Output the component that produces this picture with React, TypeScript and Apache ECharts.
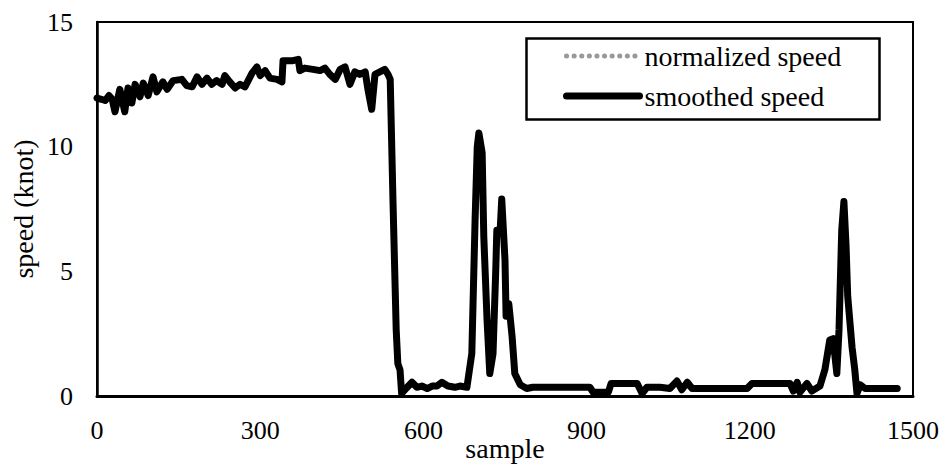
import React, { useEffect, useRef } from "react";
import * as echarts from "echarts";

const sampleIdx = [
  0, 8, 15, 22, 28, 33, 42, 51, 57, 64, 70, 79, 85, 94, 103, 110, 121, 129, 140, 156,
  165, 175, 184, 193, 202, 211, 220, 230, 235, 244, 254, 263, 272, 285, 294, 300, 309, 318, 331, 340,
  342, 360, 370, 373, 382, 397, 410, 419, 428, 438, 447, 456, 465, 474, 483, 493, 498, 505, 511, 520,
  529, 535, 539, 544, 550, 553, 557, 560, 568, 579, 588, 597, 607, 616, 625, 634, 645, 658, 667, 680,
  689, 695, 699, 702, 708, 711, 717, 722, 728, 733, 735, 741, 744, 750, 752, 757, 763, 768, 778, 790,
  801, 851, 906, 912, 940, 945, 993, 1002, 1011, 1035, 1053, 1066, 1075, 1085, 1094, 1108, 1195, 1204, 1274, 1280,
  1287, 1292, 1305, 1314, 1329, 1338, 1347, 1353, 1360, 1364, 1369, 1373, 1377, 1380, 1388, 1393, 1397, 1403, 1412, 1471,
];

const smoothedSpeed = [
  11.95, 11.9, 11.85, 12.05, 11.9, 11.4, 12.3, 11.4, 12.35, 11.75, 12.5, 12.0, 12.55, 12.05, 12.8, 12.2, 12.6, 12.3, 12.65, 12.7,
  12.45, 12.4, 12.8, 12.5, 12.75, 12.5, 12.65, 12.5, 12.85, 12.6, 12.35, 12.5, 12.4, 12.95, 13.2, 12.85, 13.05, 12.75, 12.7, 12.6,
  13.45, 13.45, 13.5, 13.05, 13.15, 13.1, 13.05, 13.15, 12.9, 12.7, 13.1, 13.2, 12.5, 13.0, 12.9, 13.0, 12.3, 11.5, 12.9, 13.0,
  13.1, 12.9, 12.7, 7.9, 2.65, 1.3, 1.05, 0.1, 0.3, 0.55, 0.35, 0.4, 0.3, 0.4, 0.4, 0.55, 0.4, 0.35, 0.4, 0.35,
  1.7, 7.05, 10.0, 10.55, 9.75, 6.4, 3.05, 0.9, 1.7, 5.05, 6.65, 6.6, 7.9, 5.45, 3.2, 3.7, 2.4, 0.9, 0.45, 0.3,
  0.35, 0.35, 0.35, 0.15, 0.15, 0.5, 0.5, 0.1, 0.35, 0.35, 0.3, 0.6, 0.25, 0.55, 0.3, 0.3, 0.3, 0.5, 0.5, 0.2,
  0.55, 0.15, 0.5, 0.2, 0.4, 1.05, 2.25, 2.3, 0.9, 2.65, 6.65, 7.8, 6.0, 4.0, 1.95, 1.05, 0.1, 0.45, 0.3, 0.3,
];

const normalizedSpeed: number[][] = [];

const xTicks = { min: 0, max: 1500, interval: 300 };
const yTicks = { min: 0, max: 15, interval: 5 };

const FONT = "'Liberation Serif', 'Times New Roman', serif";

export default function App() {
  const ref = useRef<HTMLDivElement>(null);
  useEffect(() => {
    if (!ref.current) return;
    const chart = echarts.init(ref.current, null, { renderer: "svg" });
    const smoothed = sampleIdx.map((x, i) => [x, smoothedSpeed[i]]);
    chart.setOption({
      animation: false,
      backgroundColor: "#fff",
      grid: {
        left: 97,
        right: 33,
        top: 22,
        bottom: 70,
        containLabel: false,
        outerBoundsMode: "none",
        show: true,
        borderColor: "#000",
        borderWidth: 2,
        backgroundColor: "transparent",
      },
      graphic: [
        {
          type: "rect",
          left: 524,
          top: 36,
          z: 0,
          shape: { width: 353, height: 81 },
          style: { fill: "none", stroke: "#000", lineWidth: 2.5 },
        },
      ],
      legend: {
        orient: "vertical",
        left: 558,
        top: 36,
        itemWidth: 73,
        itemHeight: 20,
        itemGap: 10,
        textStyle: { fontFamily: FONT, fontSize: 28, color: "#000", lineHeight: 30 },
        data: [
          {
            name: "normalized speed",
            itemStyle: { color: "transparent", opacity: 0, borderWidth: 0 },
            lineStyle: { color: "#999", width: 5, type: [0.1, 7.5], cap: "round", opacity: 1 },
          },
          {
            name: "smoothed speed",
            itemStyle: { color: "transparent", opacity: 0, borderWidth: 0 },
            lineStyle: { color: "#000", width: 7, type: "solid", cap: "round", opacity: 1 },
          },
        ],
      },
      xAxis: {
        type: "value",
        min: xTicks.min,
        max: xTicks.max,
        interval: xTicks.interval,
        name: "sample",
        nameLocation: "middle",
        nameGap: 38,
        nameMoveOverlap: false,
        nameTextStyle: { fontFamily: FONT, fontSize: 28, color: "#000" },
        axisLine: { show: true, lineStyle: { color: "#000", width: 3 } },
        axisTick: { show: false },
        splitLine: { show: false },
        axisLabel: {
          fontFamily: FONT,
          fontSize: 26,
          color: "#000",
          margin: 21,
          formatter: (v: number) => String(v),
        },
      },
      yAxis: {
        type: "value",
        min: yTicks.min,
        max: yTicks.max,
        interval: yTicks.interval,
        name: "speed (knot)",
        nameLocation: "middle",
        nameGap: 60,
        nameMoveOverlap: false,
        nameRotate: 90,
        nameTextStyle: { fontFamily: FONT, fontSize: 28, color: "#000" },
        axisLine: { show: true, lineStyle: { color: "#000", width: 2.5 } },
        axisTick: { show: false },
        splitLine: { show: false },
        axisLabel: {
          fontFamily: FONT,
          fontSize: 26,
          color: "#000",
          margin: 24,
          padding: [6, 0, 0, 0],
          formatter: (v: number) => String(v),
        },
      },
      series: [
        {
          name: "normalized speed",
          type: "line",
          symbol: "none",
          data: normalizedSpeed,
          itemStyle: { color: "#999" },
          lineStyle: { color: "#999", width: 4, type: [0.1, 7.5], cap: "round" },
        },
        {
          name: "smoothed speed",
          type: "line",
          symbol: "none",
          data: smoothed,
          itemStyle: { color: "#000" },
          lineStyle: { color: "#000", width: 7, cap: "round", join: "round" },
        },
      ],
    });
    return () => chart.dispose();
  }, []);
  return (
    <div
      ref={ref}
      style={{ position: "absolute", left: 0, top: 0, width: 946, height: 466 }}
    />
  );
}
